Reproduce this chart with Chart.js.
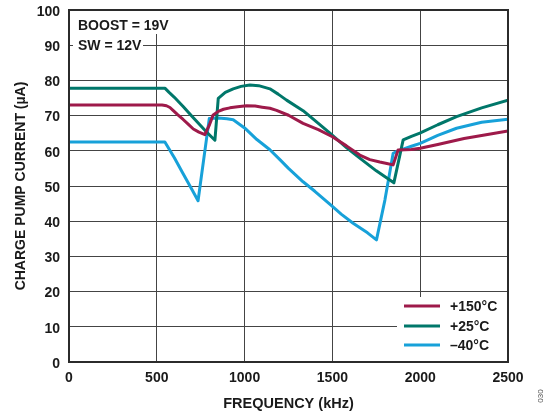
<!DOCTYPE html>
<html>
<head>
<meta charset="utf-8">
<script src="https://cdn.jsdelivr.net/npm/chart.js@4/dist/chart.umd.min.js"></script>
<style>
html,body{margin:0;padding:0;background:#fff;}
#wrap{width:549px;height:415px;position:relative;}
</style>
</head>
<body>
<div id="wrap"><canvas id="c" width="549" height="415"></canvas></div>
<script>
// Data (frequency in kHz, current in µA)
const seriesLabels = ["+150°C", "+25°C", "\u201340°C"];
const freq150 = [0,530,555,575,594,620,650,680,708,740,774,800,821,850,880,916,960,1011,1060,1100,1144,1182,1250,1333,1420,1500,1580,1656,1713,1770,1810,1846,1874,1950,2000,2100,2250,2400,2500];
const cur150  = [73,73,72.8,72.3,71.4,70.2,68.9,67.5,66.2,65.3,64.6,67.4,70.2,71.2,71.8,72.2,72.5,72.8,72.7,72.4,72.1,71.5,70.1,67.8,66.0,64,61.4,58.8,57.5,56.8,56.4,56,60.2,60.4,60.7,61.8,63.5,64.8,65.6];
const freq25  = [0,546,570,600,650,700,778,831,850,890,935,980,1030,1080,1144,1191,1239,1333,1420,1486,1580,1656,1750,1850,1903,1950,1998,2100,2207,2350,2500];
const cur25   = [77.8,77.8,76.6,75.2,72.6,69.8,65.6,63,74.9,76.6,77.6,78.3,78.7,78.5,77.6,76.1,74.4,71.4,67.8,65,60.9,57.9,54.3,50.9,63.1,64.1,65,67.4,69.7,72.2,74.4];
const freqM40 = [0,546,600,650,700,735,799,850,900,935,1000,1070,1144,1201,1250,1333,1400,1500,1550,1618,1700,1751,1799,1846,1874,1950,2000,2100,2207,2350,2500];
const curM40  = [62.5,62.5,58,53.5,49,45.8,69.2,69.3,69.1,68.8,66.5,63.2,60.3,57.5,55,51.2,48.5,44.2,42,39.4,36.7,34.7,46,59.3,60,61.3,62.1,64.4,66.4,68.1,69];
const xTicks = [0,500,1000,1500,2000,2500];
const yTicks = [0,10,20,30,40,50,60,70,80,90,100];
const notes = ["BOOST = 19V", "SW = 12V"];

const colors = ["#9e1a4a", "#00776a", "#17a1d9"];
const FONT = "'Liberation Sans', Arial, sans-serif";

function pts(xs, ys){ return xs.map((x,i)=>({x:x, y:ys[i]})); }

const overlay = {
  id: 'overlay',
  afterDatasetsDraw(chart){
    const ctx = chart.ctx, a = chart.chartArea;
    ctx.save();
    ctx.strokeStyle = '#2b2b2b';
    ctx.lineWidth = 2;
    ctx.strokeRect(a.left, a.top, a.right - a.left, a.bottom - a.top);
    ctx.fillStyle = '#fff';
    ctx.fillRect(a.left + 1, a.top + 1, 106, 23);
    ctx.fillRect(a.left + 4, a.top + 24, 70, 22);
    ctx.fillStyle = '#1a1a1a';
    ctx.font = 'bold 14px ' + FONT;
    ctx.textBaseline = 'middle';
    ctx.textAlign = 'left';
    ctx.fillText(notes[0], a.left + 9, a.top + 16.5);
    ctx.fillText(notes[1], a.left + 9, a.top + 36.5);
    const lx = 397, ly = 297;
    ctx.fillStyle = '#fff';
    ctx.fillRect(lx, ly, a.right - 1 - lx, a.bottom - 1 - ly);
    const rows = [306, 326, 345];
    chart.data.datasets.forEach((ds, i) => {
      ctx.strokeStyle = ds.borderColor;
      ctx.lineWidth = 3;
      ctx.beginPath();
      ctx.moveTo(404, rows[i]);
      ctx.lineTo(440, rows[i]);
      ctx.stroke();
      ctx.fillStyle = '#1a1a1a';
      ctx.fillText(ds.label, 450, rows[i] + 1);
    });
    ctx.restore();
  },
  afterDraw(chart){
    const ctx = chart.ctx;
    ctx.save();
    ctx.translate(541, 396);
    ctx.rotate(-Math.PI/2);
    ctx.fillStyle = '#555';
    ctx.font = '8px ' + FONT;
    ctx.textAlign = 'center';
    ctx.textBaseline = 'middle';
    ctx.fillText('030', 0, 0);
    ctx.restore();
  }
};

new Chart(document.getElementById('c'), {
  type: 'line',
  data: {
    datasets: [
      {label: seriesLabels[0], data: pts(freq150, cur150), borderColor: colors[0]},
      {label: seriesLabels[1], data: pts(freq25, cur25), borderColor: colors[1]},
      {label: seriesLabels[2], data: pts(freqM40, curM40), borderColor: colors[2]}
    ].map(d => Object.assign(d, {borderWidth: 3, pointRadius: 0, tension: 0, fill: false, borderJoinStyle: 'round'}))
  },
  options: {
    responsive: false,
    animation: false,
    devicePixelRatio: 1,
    layout: {padding: {left: 0, top: 10, right: 41, bottom: 0}},
    plugins: {legend: {display: false}, tooltip: {enabled: false}},
    scales: {
      x: {
        type: 'linear', min: 0, max: 2500,
        afterBuildTicks(s){ s.ticks = xTicks.map(v => ({value: v})); },
        afterFit(s){ s.height = 53; s.paddingLeft = 0; s.paddingRight = 0; },
        grid: {color: '#444', lineWidth: 1, drawTicks: false},
        border: {display: false},
        ticks: {padding: 8, color: '#1a1a1a', font: {family: FONT, size: 14, weight: 'bold'}, maxRotation: 0, callback: v => String(v)},
        title: {display: true, text: 'FREQUENCY (kHz)', color: '#1a1a1a', font: {family: FONT, size: 14.5, weight: 'bold'}, padding: {top: 0, bottom: 2}}
      },
      y: {
        type: 'linear', min: 0, max: 100,
        afterBuildTicks(s){ s.ticks = yTicks.map(v => ({value: v})); },
        afterFit(s){ s.width = 69; s.paddingTop = 0; s.paddingBottom = 0; },
        grid: {color: '#444', lineWidth: 1, drawTicks: false},
        border: {display: false},
        ticks: {padding: 9, labelOffset: 2, color: '#1a1a1a', font: {family: FONT, size: 14, weight: 'bold'}, callback: v => String(v)},
        title: {display: true, text: 'CHARGE PUMP CURRENT (µA)', color: '#1a1a1a', font: {family: FONT, size: 14, weight: 'bold'}, padding: {top: 12.5, bottom: 0}}
      }
    }
  },
  plugins: [overlay]
});
</script>
</body>
</html>
